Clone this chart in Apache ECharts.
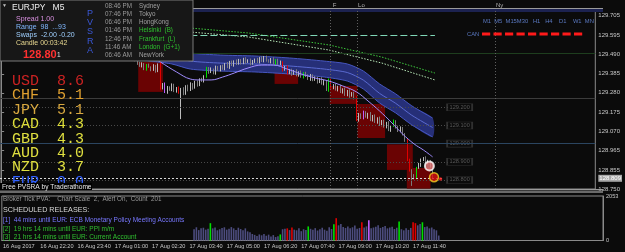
<!DOCTYPE html>
<html><head><meta charset="utf-8">
<script src="https://cdn.jsdelivr.net/npm/echarts@6/dist/echarts.min.js"></script>
<style>html,body{margin:0;padding:0;background:#0b0b0b}#c{width:625px;height:252px}</style>
</head><body><div id="c"></div>
<script>
// ---------- DATA ----------
const BAR_SLOTS = 258;           // M5 slots across the chart width
const FIRST_BAR = 55;            // first drawn candle index
const timeLabels = ['16 Aug 2017','16 Aug 22:20','16 Aug 23:40','17 Aug 01:00','17 Aug 02:20','17 Aug 03:40','17 Aug 05:00','17 Aug 06:20','17 Aug 07:40','17 Aug 09:00','17 Aug 10:20','17 Aug 11:40'];
const priceTicks = [128.750,128.855,128.965,129.070,129.175,129.280,129.385,129.490,129.595,129.705];
const bidPrice = 128.809;
const firstOpen = 129.470;
const closes = [
 129.477,129.466,129.483,129.461,129.444,129.428,129.439,129.411,129.433,129.422,
 129.406,129.428,129.400,129.439,129.307,129.329,129.285,129.312,129.296,129.323,
 129.290,129.307,129.279,129.301,129.274,129.318,129.296,129.329,129.307,129.340,
 129.323,129.356,129.345,129.367,129.417,129.395,129.411,129.389,129.422,129.406,
 129.428,129.411,129.439,129.422,129.450,129.433,129.455,129.439,129.461,129.444,
 129.466,129.450,129.461,129.439,129.455,129.466,129.450,129.472,129.455,129.477,
 129.461,129.450,129.466,129.444,129.461,129.439,129.450,129.406,129.422,129.389,
 129.406,129.384,129.400,129.378,129.395,129.367,129.389,129.373,129.356,129.378,
 129.351,129.362,129.340,129.356,129.329,129.345,129.296,129.351,129.307,129.323,
 129.296,129.312,129.285,129.301,129.268,129.290,129.263,129.279,129.252,129.130,
 129.163,129.141,129.174,129.147,129.163,129.130,129.152,129.119,129.141,129.103,
 129.125,129.092,129.114,129.075,129.097,129.125,129.092,129.070,129.086,129.053,
 129.020,128.910,128.855,128.822,128.811,128.866,128.882,128.910,128.921,128.893,
 128.904,128.877,128.809];
const wickUp = [ // points (0.001) above body
 8,5,10,6,4,7,9,5,6,8, 4,10,6,3,12,5,8,6,4,9, 7,5,8,6,10,4,7,9,5,6, 8,4,7,10,6,5,9,3,8,6,
 4,7,5,11,6,8,4,9,6,5, 7,10,4,8,6,3,7,5,9,6, 8,4,6,10,5,7,8,4,6,9, 5,7,6,10,4,8,5,7,9,6,
 4,8,6,5,10,7,4,8,6,5, 9,7,12,4,8,6,10,5,7,9, 6,4,8,5,7,11,6,9,4,8, 5,7,6,10,5,8,4,7,9,6,
 5,8,7,4,10,6,12,8,5,9, 7,6,10];
const wickDn = [ // points (0.001) below body
 6,9,4,7,10,5,8,6,9,4, 7,5,9,6,10,8,6,10,5,7, 6,9,4,144,7,5,8,6,10,4, 9,6,5,8,4,10,6,7,9,5,
 8,4,7,6,10,5,9,6,4,8, 6,9,5,7,4,10,6,8,5,7, 9,4,8,6,10,5,7,9,4,8, 6,10,5,7,9,4,8,6,5,10,
 7,5,9,6,4,8,6,10,5,7, 4,8,6,9,5,7,10,4,8,6, 9,5,7,4,10,6,8,5,9,6, 7,4,8,6,10,5,9,6,7,8,
 10,6,9,55,8,7,5,10,6,8, 6,9,5];
const specialBars = {63:'g',69:'r',71:'v',77:'r',89:'g',119:'g',122:'r',124:'r',131:'g',142:'g',143:'r',154:'r',157:'v',170:'g',176:'r',177:'r',180:'g'};
const VOL_FIRST = 82;
const volumes = [
 520,610,480,560,590,500,540, 800,
 560,600,470,520,580,610,500,540,620,560,480,590,530,470,560,
 420,380,300,260,210,280,240,300,220,270,190,250,160,200, 280,
 520,540,560,480,600, 500,470,560,430,520,490, 650,
 540,500,570,460,520,590,500,450,610,530, 750,1030,
 700,760,620,580,650,560,610,690,540,580, 840, 600,650, 930,
 560,600,640,700,580,620,670,560,600,640,530,590, 880,
 520,470,560,490,580, 840,800, 700,760, 840,
 620,650,560,600,520,470,230];
const volMax = 2053;
// moving averages (bar index, price)
const fastMA = [[62,129.505],[69,129.450],[76,129.395],[82,129.356],[86,129.351],[91,129.351],[96,129.367],[101,129.389],[107,129.417],[113,129.433],[118,129.433],[124,129.411],[130,129.384],[136,129.362],[142,129.345],[148,129.318],[154,129.285],[159,129.235],[164,129.180],[169,129.119],[174,129.053],[179,128.998],[183,128.965],[187,128.927]];
const bandX   = [62,74,82,95,110,125,140,150,157,164,171,178,187];
const bandTop = [129.538,129.516,129.499,129.488,129.483,129.472,129.455,129.439,129.400,129.329,129.274,129.208,129.141];
const bandMid = [129.500,129.478,129.455,129.444,129.439,129.428,129.411,129.392,129.350,129.277,129.222,129.156,129.089];
const bandBot = [129.461,129.439,129.411,129.400,129.395,129.384,129.367,129.345,129.301,129.224,129.169,129.103,129.037];
const trendA = [[70,129.654],[82,129.637],[107,129.610],[142,129.544],[165,129.477],[188,129.389]];
const trendB = [[70,129.632],[82,129.615],[107,129.588],[142,129.516],[165,129.444],[188,129.351]];
const canLevel = 129.597;
const roundLevels = [129.2,129.1,129.0,128.9,128.8];
const zones = [[59.4,70.1,129.450,129.285],[118.5,128.7,129.428,129.329],[142.4,154.4,129.318,129.219],[154.4,166.4,129.219,129.031],[167.2,178.4,128.996,128.855],[175.8,186.1,128.866,128.752]];
const sessions = [[142.8,'F'],[154.4,'Lo'],[214.3,'Ny']];
const markers = [[185.6,128.877,'w'],[187.6,128.815,'r'],[190.4,128.805,'d']];
const currencies = [['USD','8.6','#cc2222'],['CHF','5.1','#e0a030'],['JPY','5.1','#d8a840'],['CAD','4.3','#dede3a'],['GBP','4.3','#e0e040'],['AUD','4.0','#e0e040'],['NZD','3.7','#e0e040'],['EUR','0.0','#3060ff']];
const sessionTimes = [['08:46 PM','Sydney','#a0a0a0'],['07:46 PM','Tokyo','#a0a0a0'],['06:46 PM','HongKong','#a0a0a0'],['01:46 PM','Helsinki  (B)','#2ec02e'],['12:46 PM','Frankfurt  (L)','#2ec02e'],['11:46 AM','London  (G+1)','#2ec02e'],['06:46 AM','NewYork','#a0a0a0']];
const releases = [['[1]  44 mins until EUR: ECB Monetary Policy Meeting Accounts','#7878ff'],['[2]  19 hrs 14 mins until EUR: PPI m/m','#30c030'],['[3]  21 hrs 14 mins until EUR: Current Account','#30c030']];

// ---------- BUILD ----------
const SPECIAL_COL = {g:'#00e000', r:'#e00000', v:'#c060ff'};
const cats = Array.from({length: BAR_SLOTS}, (_, i) => 'b' + i);
const candleData = cats.map(() => '-');
let prev = firstOpen;
closes.forEach((c, k) => {
  const i = FIRST_BAR + k;
  const o = prev;
  const hi = Math.max(o, c) + wickUp[k] / 1000;
  const lo = Math.min(o, c) - wickDn[k] / 1000;
  const item = {value: [o, c, lo, hi]};
  if (specialBars[i]) {
    const col = SPECIAL_COL[specialBars[i]];
    item.itemStyle = {color: col, color0: col, borderColor: col, borderColor0: col};
  }
  candleData[i] = item;
  prev = c;
});
const volData = cats.map(() => '-');
volumes.forEach((v, k) => {
  const i = VOL_FIRST + k;
  volData[i] = {value: v, itemStyle: {color: specialBars[i] ? SPECIAL_COL[specialBars[i]] : '#4c4c7e'}};
});

const F = 'Liberation Sans';
const graphics = [];
graphics.push({type:'rect', shape:{x:0,y:0,width:193,height:61}, style:{fill:'#171717', stroke:'#7a7a7a', lineWidth:1}, z:50});
graphics.push({type:'text', x:2, y:3, style:{text:'▼', fill:'#c0c0c0', font:'5px '+F}, z:51});
graphics.push({type:'text', x:12, y:3, style:{text:'EURJPY   M5', fill:'#f0f0f0', font:'8.5px '+F}, z:51});
graphics.push({type:'text', x:16, y:16, style:{text:'Spread 1.00', fill:'#d890e0', font:'7px '+F}, z:51});
graphics.push({type:'text', x:16, y:24, style:{text:'Range  98  ...93', fill:'#80b8ff', font:'7px '+F}, z:51});
graphics.push({type:'text', x:16, y:31.5, style:{text:'Swaps  -2.00 -0.20', fill:'#a0d0ff', font:'7px '+F}, z:51});
graphics.push({type:'text', x:16, y:39.5, style:{text:'Candle 00:03:42', fill:'#e8d890', font:'7px '+F}, z:51});
graphics.push({type:'text', x:23, y:49, style:{text:'128.80', fill:'#ff3030', font:'bold 11px '+F}, z:51});
graphics.push({type:'text', x:57, y:51.5, style:{text:'1', fill:'#e0e0e0', font:'6.5px '+F}, z:51});
['P','V','S','R','A'].forEach((ch, k) => graphics.push({type:'text', x:87, y:9 + k*9.2, style:{text:ch, fill:'#3a58d8', font:'9px '+F}, z:51}));
sessionTimes.forEach((s, k) => {
  graphics.push({type:'text', x:105, y:3 + k*8.2, style:{text:s[0], fill:'#9a9a9a', font:'6.3px '+F}, z:51});
  graphics.push({type:'text', x:139, y:3 + k*8.2, style:{text:s[1], fill:s[2], font:'6.3px '+F}, z:51});
});
currencies.forEach((c, k) => {
  graphics.push({type:'text', x:12, y:73.5 + k*14.4, style:{text:c[0] + '  ' + c[1], fill:c[2], font:'15px "Liberation Mono"'}, z:40});
});
graphics.push({type:'rect', shape:{x:0,y:183,width:92,height:7}, style:{fill:'#000'}, z:45});
graphics.push({type:'text', x:2, y:183.5, style:{text:'Free PVSRA by Traderathome', fill:'#e8e8e8', font:'6.6px '+F}, z:46});
graphics.push({type:'text', x:483, y:18, style:{text:'M1  M5  M15M30   H1   H4    D1    W1  MN', fill:'#5a78c0', font:'5.8px '+F}, z:30});
graphics.push({type:'text', x:467, y:31, style:{text:'CAN', fill:'#5a78c0', font:'5.8px '+F}, z:30});
graphics.push({type:'line', shape:{x1:482,y1:34,x2:585,y2:34}, style:{stroke:'#ff1a1a', lineWidth:3, lineDash:[8.2,3.3]}, z:30});
graphics.push({type:'rect', shape:{x:0,y:8,width:603,height:1}, style:{fill:'#9a9a9a'}, z:30});
graphics.push({type:'rect', shape:{x:0,y:9,width:603,height:3}, style:{fill:'#1c2250'}, z:1});
graphics.push({type:'rect', shape:{x:0,y:189,width:603,height:1}, style:{fill:'#9a9a9a'}, z:30});
graphics.push({type:'rect', shape:{x:0,y:190.5,width:603,height:2.5}, style:{fill:'#6a6a6a'}, z:30});
graphics.push({type:'text', x:3, y:196, style:{text:'Broker Tick PVA:    Chart Scale  2,  Alert On,  Count  201', fill:'#9a9a9a', font:'6.3px '+F}, z:30});
graphics.push({type:'text', x:3, y:207, style:{text:'SCHEDULED RELEASES:', fill:'#d8d8d8', font:'7.2px '+F}, z:30});
releases.forEach((r, k) => graphics.push({type:'text', x:3, y:216.5 + k*8.8, style:{text:r[0], fill:r[1], font:'6.5px '+F}, z:30}));

function bandRender(params, api) {
  const top = bandX.map((x, k) => api.coord([x, bandTop[k]]));
  const mid = bandX.map((x, k) => api.coord([x, bandMid[k]]));
  const bot = bandX.map((x, k) => api.coord([x, bandBot[k]]));
  return {type:'group', children:[
    {type:'polygon', shape:{points: top.concat(bot.slice().reverse()), smooth:0.25}, style:{fill:'#262f78'}},
    {type:'polyline', shape:{points: top, smooth:0.25}, style:{stroke:'#4656c0', lineWidth:1, fill:null}},
    {type:'polyline', shape:{points: bot, smooth:0.25}, style:{stroke:'#4656c0', lineWidth:1, fill:null}},
    {type:'polyline', shape:{points: mid, smooth:0.25}, style:{stroke:'#5a6ad0', lineWidth:1, fill:null}}
  ]};
}

const option = {
  backgroundColor: '#0b0b0b',
  animation: false,
  graphic: graphics,
  grid: [
    {left:0, top:9, width:603, height:180, show:true, borderColor:'#8a8a8a', borderWidth:1, backgroundColor:'transparent'},
    {left:0, top:196, width:603, height:44.5, show:true, borderColor:'#8a8a8a', borderWidth:1}
  ],
  xAxis: [
    {type:'category', gridIndex:0, data:cats, show:false},
    {type:'value', gridIndex:0, min:-0.5, max:BAR_SLOTS-0.5, show:false},
    {type:'category', gridIndex:1, data:cats,
      axisLine:{lineStyle:{color:'#8a8a8a'}},
      axisTick:{alignWithLabel:true, length:2, lineStyle:{color:'#8a8a8a'}, interval:(idx)=> idx % 16 === 0 && idx/16 < timeLabels.length},
      axisLabel:{color:'#c8c8c8', fontSize:5.6, fontFamily:F, align:'left', margin:3,
        interval:(idx)=> idx % 16 === 0 && idx/16 < timeLabels.length,
        formatter:(v, idx)=> timeLabels[idx/16] || ''}}
  ],
  yAxis: [
    {type:'value', gridIndex:0, position:'right', min:128.750, max:129.742, splitLine:{show:false},
      axisLine:{show:true, lineStyle:{color:'#8a8a8a'}},
      axisTick:{show:true, length:3, customValues:priceTicks, lineStyle:{color:'#8a8a8a'}},
      axisLabel:{customValues:priceTicks.concat([bidPrice]), color:'#c8c8c8', fontSize:6, fontFamily:F, margin:3,
        formatter:(v)=> Math.abs(v - bidPrice) < 1e-6 ? '{cur|' + v.toFixed(3) + '}' : v.toFixed(3),
        rich:{cur:{backgroundColor:'#a8a8a8', color:'#ffffff', fontSize:6, fontFamily:F, padding:[1,1,0,1]}}}},
    {type:'value', gridIndex:1, position:'right', min:0, max:volMax, splitLine:{show:false},
      axisLine:{show:true, lineStyle:{color:'#8a8a8a'}},
      axisTick:{show:false},
      axisLabel:{customValues:[0, volMax], color:'#c8c8c8', fontSize:5.6, fontFamily:F, margin:3, formatter:(v)=> String(v)}}
  ],
  series: [
    {type:'line', xAxisIndex:1, yAxisIndex:0, data:[], z:1, silent:true,
      markArea:{silent:true, itemStyle:{color:'#6a0303'},
        data: zones.map(z => [{coord:[z[0], z[2]]}, {coord:[z[1], z[3]]}])},
      markLine:{silent:true, symbol:'none', animation:false,
        data: [
          ...roundLevels.filter(p => p !== 129.0).map(p => [{coord:[-0.5,p], lineStyle:{color:'#4a4a4a', type:[1,2], width:1}}, {coord:[193.5,p]}]),
          [{coord:[-0.5,129.0], lineStyle:{color:'#2b4560', type:'solid', width:1}}, {coord:[BAR_SLOTS-0.5,129.0]}],
          [{coord:[-0.5,129.25], lineStyle:{color:'#3c3c3c', type:'solid', width:1}}, {coord:[BAR_SLOTS-0.5,129.25]}],
          [{coord:[-0.5,129.50], lineStyle:{color:'#1e3e1e', type:'solid', width:1}}, {coord:[BAR_SLOTS-0.5,129.50]}],
          [{coord:[-0.5,bidPrice], lineStyle:{color:'#d8d8d8', type:[2,2], width:1}}, {coord:[191,bidPrice]}],
          [{coord:[82,canLevel], lineStyle:{color:'#80d8b8', type:[7,3], width:1}}, {coord:[188,canLevel]}],
          ...sessions.map(s => ({xAxis:s[0], lineStyle:{color:'#606060', type:[1,2], width:1},
             label:{show:true, position:'end', formatter:s[1], color:'#b0b0b0', fontSize:6, fontFamily:F, distance:1, offset:[4,0]}}))
        ], label:{show:false}}},
    {type:'scatter', xAxisIndex:1, yAxisIndex:0, z:2, silent:true, symbol:'rect', symbolSize:[25,7],
      itemStyle:{color:'#0b0b0b', borderColor:'#3a3a3a', borderWidth:1},
      label:{show:true, position:'inside', color:'#6a6a6a', fontSize:5.6, fontFamily:F, formatter:(p)=> p.value[1].toFixed(3)},
      data: roundLevels.map(p => [198.7, p])},
    {type:'custom', xAxisIndex:1, yAxisIndex:0, z:3, silent:true, renderItem:bandRender, data:[[bandX[0], bandMid[0]]]},
    {type:'line', xAxisIndex:1, yAxisIndex:0, symbol:'none', z:3, lineStyle:{color:'#3cc83c', width:1, type:[1.5,1.5]}, data:trendA},
    {type:'line', xAxisIndex:1, yAxisIndex:0, symbol:'none', z:3, lineStyle:{color:'#b8e8b8', width:1, type:[1.5,1.5]}, data:trendB},
    {type:'candlestick', xAxisIndex:0, yAxisIndex:0, z:4, barWidth:1.2, data:candleData,
      itemStyle:{color:'#bcbcbc', color0:'#7c7c7c', borderColor:'#bcbcbc', borderColor0:'#7c7c7c', borderWidth:1}},
    {type:'line', xAxisIndex:1, yAxisIndex:0, smooth:0.4, symbol:'none', z:5, lineStyle:{color:'#a08cff', width:1}, data:fastMA},
    {type:'scatter', xAxisIndex:1, yAxisIndex:0, z:6, silent:true,
      data: markers.map(m => {
        if (m[2]==='w') return {value:[m[0],m[1]], symbolSize:9, itemStyle:{color:'#f08080', borderColor:'#ffffff', borderWidth:2}};
        if (m[2]==='r') return {value:[m[0],m[1]], symbolSize:9, itemStyle:{color:'#e01010', borderColor:'#f0d020', borderWidth:1.5}};
        return {value:[m[0],m[1]], symbolSize:3.5, itemStyle:{color:'#ff2020'}};
      })},
    {type:'bar', xAxisIndex:2, yAxisIndex:1, barWidth:1.6, data:volData, z:3}
  ]
};
echarts.init(document.getElementById('c'), null, {renderer:'canvas'}).setOption(option);
</script></body></html>
